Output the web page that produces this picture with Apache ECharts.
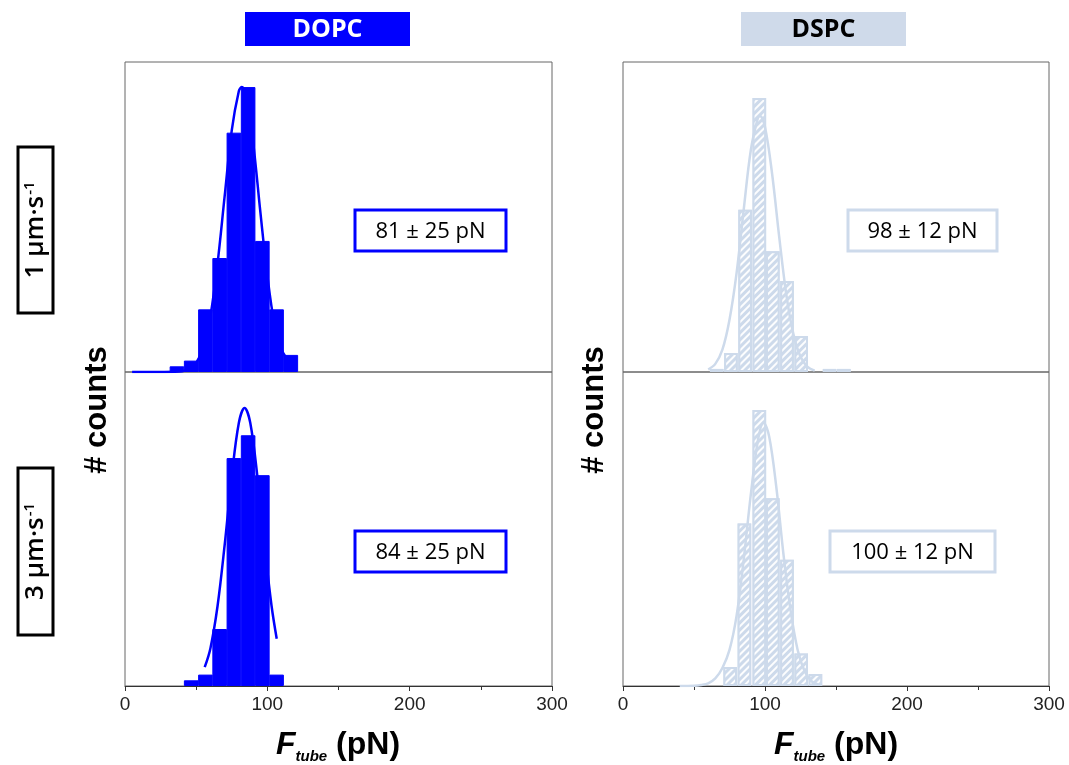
<!DOCTYPE html>
<html><head><meta charset="utf-8">
<script src="https://cdn.jsdelivr.net/npm/echarts@6/dist/echarts.min.js"></script>
<style>html,body{margin:0;padding:0;background:#fff}#c{width:1069px;height:765px}</style>
</head><body><div id="c"></div>
<script>
// ---- data ----
const xTicks = [0, 100, 200, 300];
const panelTitles = ['DOPC', 'DSPC'];
const rowLabels = ['1 µm·s', '3 µm·s'];
const fitLabels = ['81 ± 25 pN', '84 ± 25 pN', '98 ± 12 pN', '100 ± 12 pN'];

// DOPC, 1 µm/s
const dopc1Bins   = [36.5, 46.5, 56.5, 66.5, 76.5, 86.5, 96.5, 106.5, 116.5];
const dopc1Counts = [1, 2, 11, 20, 42, 50, 23, 11, 3];
const dopc1FitX   = [5, 20, 35, 40, 45, 50, 55, 60, 65, 70, 75, 80, 82, 85, 90, 95, 100, 105, 110, 113];
const dopc1FitY   = [0, 0, 0.05, 0.15, 0.5, 1.6, 4.3, 9.8, 19, 30.8, 42.4, 49.3, 50, 48.5, 40.3, 28.3, 16.9, 8.4, 3.9, 2.6];
// DOPC, 3 µm/s
const dopc3Bins   = [46.5, 56.5, 66.5, 76.5, 86.5, 96.5, 106.5];
const dopc3Counts = [1, 2, 10, 40, 44, 37, 2];
const dopc3FitX   = [56, 60, 65, 70, 75, 80, 84, 88, 93, 98, 103, 106.6];
const dopc3FitY   = [3.3, 6.6, 14, 24.7, 36.8, 46.2, 48.8, 46.2, 36.8, 24.7, 14, 8.3];
// DSPC, 1 µm/s
const dspc1Bins   = [66, 76, 86, 96, 105.5, 115.5, 125.5, 145.5, 155.5];
const dspc1Counts = [0.17, 1.05, 9, 15.2, 6.7, 5.05, 2, 0.17, 0.17];
const dspc1FitX   = [60, 65, 70, 75, 80, 85, 90, 95, 96.5, 100, 105, 110, 115, 120, 125, 130, 135];
const dspc1FitY   = [0.14, 0.45, 1.24, 2.9, 5.5, 9.0, 12.3, 14.1, 14.2, 13.6, 11.0, 7.5, 4.3, 2.1, 0.85, 0.29, 0.08];
// DSPC, 3 µm/s
const dspc3Bins   = [75.5, 85.5, 96, 105.5, 115.5, 125.5, 135.5];
const dspc3Counts = [1.05, 9, 15.3, 10.4, 7, 1.8, 0.67];
const dspc3FitX   = [40, 50, 55, 60, 65, 70, 75, 80, 85, 90, 95, 99, 103, 108, 113, 118, 123, 128, 133, 138];
const dspc3FitY   = [0, 0.02, 0.06, 0.15, 0.42, 1.0, 2.0, 3.9, 7.0, 10.6, 13.6, 14.6, 13.8, 11.0, 7.3, 4.2, 2.0, 0.8, 0.25, 0.07];

// ---- styling ----
const BLUE = '#0000ff';
const LIGHT = '#cddaeb';
const zip = (a, b) => a.map((v, i) => [v, b[i]]);

const grids = [
  { left: 125, top: 62,  width: 427, height: 310 },
  { left: 125, top: 372, width: 427, height: 314 },
  { left: 623, top: 62,  width: 426, height: 310 },
  { left: 623, top: 372, width: 426, height: 314 }
].map(g => Object.assign(g, { show: true, borderColor: '#666', borderWidth: 1, backgroundColor: 'transparent' }));

const yMax = [54.4, 55.1, 17.2, 17.4];
const isBottom = [false, true, false, true];

const xAxes = grids.map((g, i) => ({
  type: 'value', gridIndex: i, min: xTicks[0], max: xTicks[xTicks.length - 1], interval: xTicks[1] - xTicks[0],
  splitLine: { show: false },
  axisLine: { show: isBottom[i], onZero: false, lineStyle: { color: '#333', width: 1 } },
  axisTick: { show: isBottom[i], length: 5, lineStyle: { color: '#333' } },
  minorTick: { show: isBottom[i], splitNumber: 2, length: 4, lineStyle: { color: '#333' } },
  axisLabel: { show: isBottom[i], margin: 9, fontSize: 19, color: '#222', fontFamily: 'Liberation Sans, Arial, sans-serif',
    formatter: v => xTicks.includes(v) ? String(v) : '' }
}));
const yAxes = grids.map((g, i) => ({ type: 'value', gridIndex: i, min: 0, max: yMax[i], show: false, splitLine: { show: false } }));

const dspcBarStyle = {
  color: LIGHT, borderColor: LIGHT, borderWidth: 2,
  decal: { symbol: 'rect', color: 'rgba(255,255,255,0.95)', dashArrayX: [1, 0], dashArrayY: [1.4, 2.6], rotation: -Math.PI / 4 }
};
const dopcBarStyle = { color: BLUE, borderColor: BLUE, borderWidth: 1 };

function barSeries(i, bins, counts, style, w) {
  return { type: 'bar', xAxisIndex: i, yAxisIndex: i, data: zip(bins, counts), barWidth: w, itemStyle: style, z: 2, emphasis: { disabled: true } };
}
function fitSeries(i, xs, ys, color) {
  return { type: 'line', xAxisIndex: i, yAxisIndex: i, data: zip(xs, ys), smooth: 0.35, symbol: 'none', z: 3,
    lineStyle: { color: color, width: 2.5 }, emphasis: { disabled: true } };
}

const series = [
  barSeries(0, dopc1Bins, dopc1Counts, dopcBarStyle, 14.6), fitSeries(0, dopc1FitX, dopc1FitY, BLUE),
  barSeries(1, dopc3Bins, dopc3Counts, dopcBarStyle, 14.6), fitSeries(1, dopc3FitX, dopc3FitY, BLUE),
  barSeries(2, dspc1Bins, dspc1Counts, dspcBarStyle, 13.6), fitSeries(2, dspc1FitX, dspc1FitY, LIGHT),
  barSeries(3, dspc3Bins, dspc3Counts, dspcBarStyle, 13.6), fitSeries(3, dspc3FitX, dspc3FitY, LIGHT)
];

const sansC = '"Open Sans", "Noto Sans", sans-serif';
const arial = '"Liberation Sans", Arial, sans-serif';

function titleBox(x, text, fill, textColor) {
  return { type: 'group', children: [
    { type: 'rect', shape: { x: x, y: 12, width: 165, height: 34 }, style: { fill: fill } },
    { type: 'text', x: x + 82.5, y: 29.5, style: { text: text, fill: textColor, font: 'bold 25px ' + sansC, textAlign: 'center', textVerticalAlign: 'middle' } }
  ]};
}
function rowBox(y, h, label) {
  return { type: 'group', children: [
    { type: 'rect', shape: { x: 18, y: y, width: 35, height: h }, style: { fill: '#fff', stroke: '#000', lineWidth: 3 } },
    { type: 'text', x: 36, y: y + h / 2, rotation: Math.PI / 2, style: {
      text: '{a|' + label + '}{b|-1}', textAlign: 'center', textVerticalAlign: 'middle',
      rich: { a: { font: '600 26px ' + sansC, fill: '#000', lineHeight: 28 },
              b: { font: '600 15px ' + sansC, fill: '#000', lineHeight: 28, verticalAlign: 'top', padding: [0, 0, 9, 1] } } } }
  ]};
}
function valueBox(x, y, w, h, text, stroke) {
  return { type: 'group', children: [
    { type: 'rect', shape: { x: x, y: y, width: w, height: h }, style: { fill: '#fff', stroke: stroke, lineWidth: 3 } },
    { type: 'text', x: x + w / 2, y: y + h / 2 + 1, style: { text: text, fill: '#000', font: '22px ' + sansC, textAlign: 'center', textVerticalAlign: 'middle' } }
  ]};
}
function countsLabel(x) {
  return { type: 'text', x: x, y: 410, rotation: Math.PI / 2, style: { text: '# counts', fill: '#000', font: 'bold 31px ' + arial, textAlign: 'center', textVerticalAlign: 'middle' } };
}
function forceLabel(x) {
  return { type: 'text', x: x, y: 745, style: {
    text: '{f|F}{s|tube}{p| (pN)}', textAlign: 'center', textVerticalAlign: 'middle',
    rich: { f: { font: 'italic bold 32px ' + arial, fill: '#000', lineHeight: 38 },
            s: { font: 'italic bold 15px ' + arial, fill: '#000', lineHeight: 38, verticalAlign: 'bottom', padding: [14, 0, 0, 0] },
            p: { font: 'bold 32px ' + arial, fill: '#000', lineHeight: 38 } } } };
}

const graphic = [
  titleBox(245, panelTitles[0], BLUE, '#fff'),
  titleBox(741, panelTitles[1], '#cfdaea', '#000'),
  rowBox(147, 166, rowLabels[0]),
  rowBox(468, 167, rowLabels[1]),
  countsLabel(97), countsLabel(594),
  forceLabel(338), forceLabel(836),
  valueBox(355, 210, 151, 41, fitLabels[0], BLUE),
  valueBox(355, 531, 151, 41, fitLabels[1], BLUE),
  valueBox(848, 210, 149, 41, fitLabels[2], LIGHT),
  valueBox(830, 531, 165, 41, fitLabels[3], LIGHT)
];

const chart = echarts.init(document.getElementById('c'), null, { renderer: 'canvas' });
chart.setOption({
  animation: false,
  backgroundColor: '#fff',
  grid: grids, xAxis: xAxes, yAxis: yAxes,
  series: series,
  graphic: graphic,
  tooltip: { show: false }
});
</script>
</body></html>
